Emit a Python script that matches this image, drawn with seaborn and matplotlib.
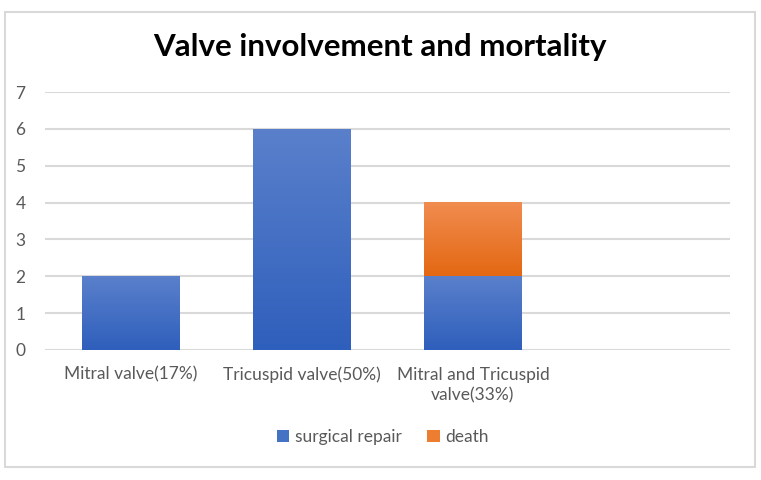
import numpy as np
import pandas as pd
import matplotlib.pyplot as plt
import seaborn as sns
from matplotlib.colors import LinearSegmentedColormap
from matplotlib.patches import Patch, Rectangle

categories = ["Mitral valve(17%)", "Tricuspid valve(50%)", "Mitral and Tricuspid\nvalve(33%)"]
surgical_repair = [2, 6, 2]
death = [0, 0, 2]
series_names = ["surgical repair", "death"]

data = pd.DataFrame({"category": categories,
                     "surgical": surgical_repair,
                     "total": [a + b for a, b in zip(surgical_repair, death)]})

sns.set_theme(style="white")
plt.rcParams['font.family'] = ['Lato', 'DejaVu Sans']

fig = plt.figure(figsize=(7.61, 4.8), dpi=100)
fig.patches.append(Rectangle((0.007, 0.027), 0.985, 0.948, transform=fig.transFigure,
                             fill=False, edgecolor="#d9d9d9", linewidth=1.5))
ax = fig.add_axes([0.059, 0.271, 0.9, 0.537])

# total first (orange), surgical repair on top (blue) -> stacked look
sns.barplot(data=data, x="category", y="total", color="#ed7d31", width=0.57, ax=ax, zorder=2)
n_total = len(ax.patches)
sns.barplot(data=data, x="category", y="surgical", color="#4472c4", width=0.57, ax=ax, zorder=3)

blue = LinearSegmentedColormap.from_list("b", ["#2f5fbc", "#5a80cb"])
orange = LinearSegmentedColormap.from_list("o", ["#e36812", "#f18c50"])
grad = np.linspace(0, 1, 256).reshape(-1, 1)
for i, p in enumerate(ax.patches):
    x, y, w, h = p.get_x(), p.get_y(), p.get_width(), p.get_height()
    if h <= 0:
        continue
    if i < n_total:
        # only the death part of the stack
        y0 = surgical_repair[i]
        if h - y0 <= 0:
            p.set_visible(False)
            continue
        cm, ext = orange, [x, x + w, y0, y + h]
    else:
        cm, ext = blue, [x, x + w, y, y + h]
    ax.imshow(grad, cmap=cm, extent=ext, origin="lower", aspect="auto", zorder=p.get_zorder() + 0.5)
    p.set_visible(False)

ax.set_xlim(-0.5, 3.5)
ax.set_ylim(0, 7)
ax.set_yticks(range(0, 8))
ax.yaxis.grid(True, color="#d9d9d9", linewidth=1.5, zorder=0)
ax.set_axisbelow(True)
for s in ax.spines.values():
    s.set_visible(False)
ax.set_xlabel("")
ax.set_ylabel("")
ax.tick_params(axis="both", length=0, labelsize=12.5, labelcolor="#595959")
ax.tick_params(axis="x", pad=12)
ax.tick_params(axis="y", pad=14)
for lab in ax.get_xticklabels():
    lab.set_linespacing(1.35)

fig.text(0.499, 0.903, "Valve involvement and mortality", ha="center", va="center",
         fontsize=22.5, fontweight="bold", color="black")

handles = [Patch(facecolor="#4472c4", edgecolor="none"), Patch(facecolor="#ed7d31", edgecolor="none")]
fig.legend(handles, series_names, loc="center", bbox_to_anchor=(0.503, 0.09), ncol=2, frameon=False,
           fontsize=12.5, labelcolor="#595959", handlelength=0.7, handleheight=0.7,
           handletextpad=0.3, columnspacing=1.5)

plt.savefig("out.png", dpi=100)
